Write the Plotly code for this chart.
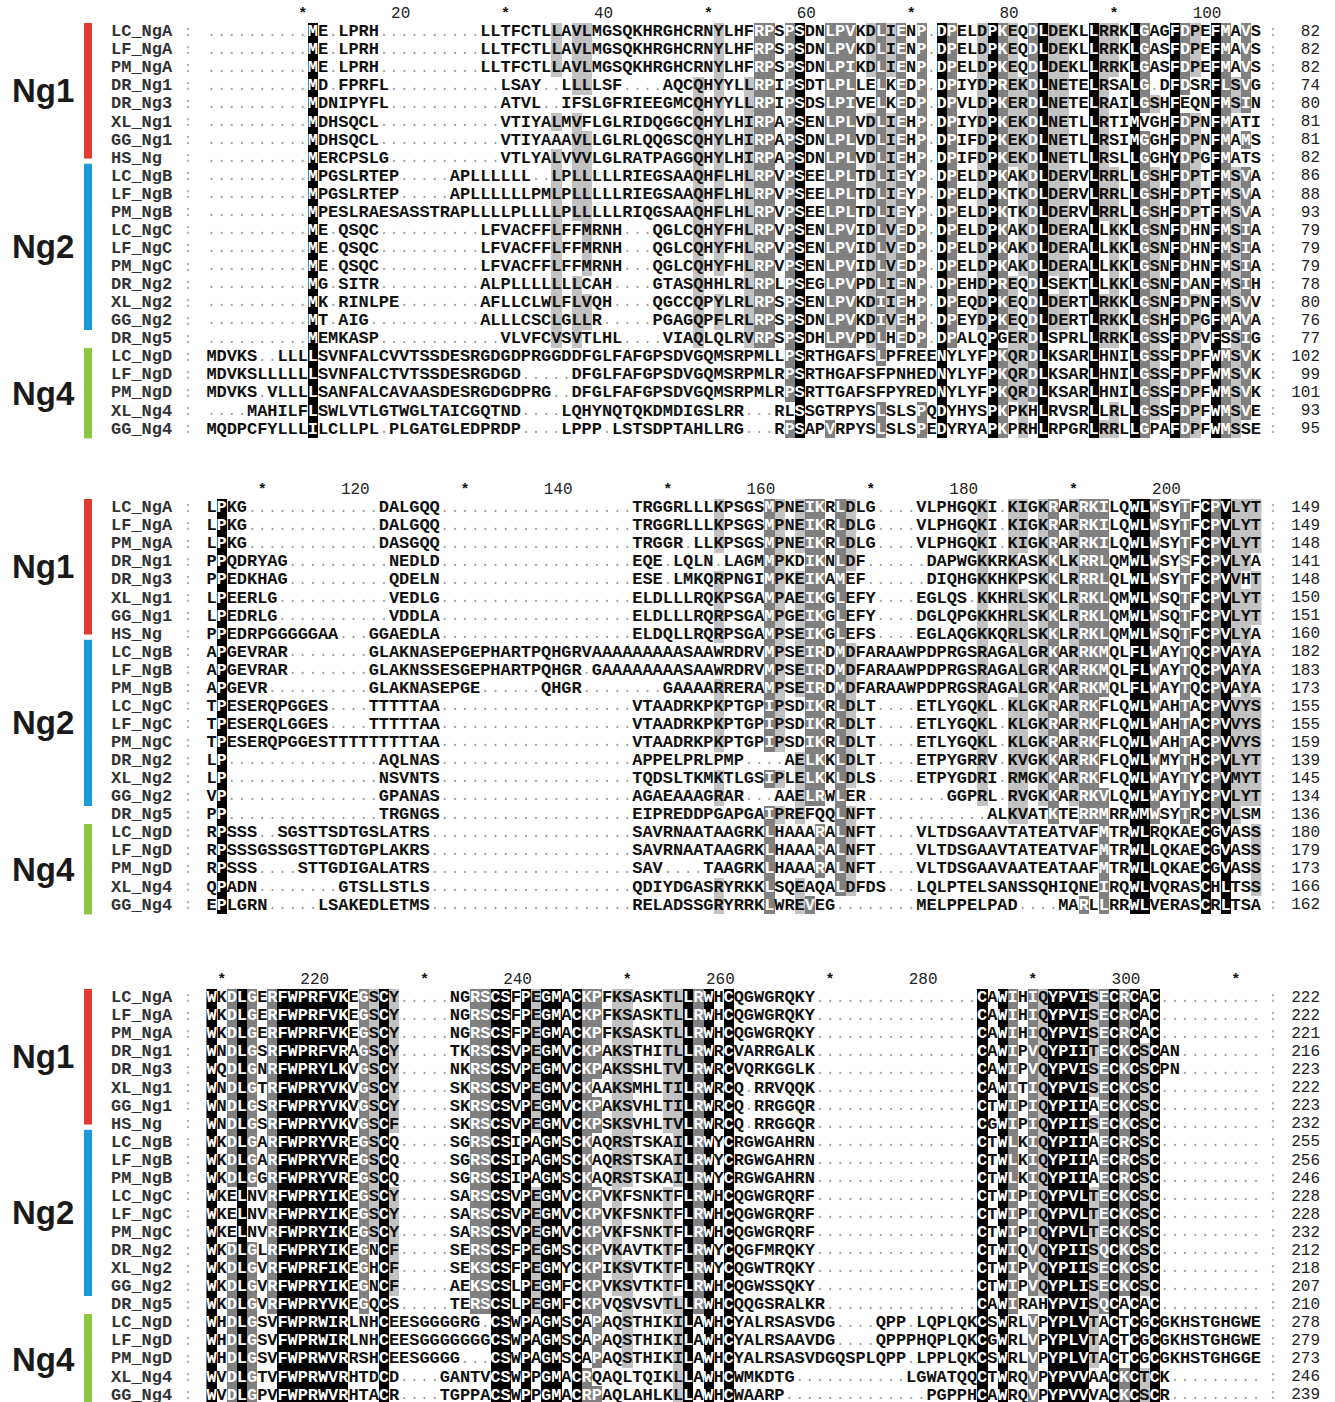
import plotly.graph_objects as go

# ---------------- data ----------------
NAMES = ["LC_NgA", "LF_NgA", "PM_NgA", "DR_Ng1", "DR_Ng3", "XL_Ng1", "GG_Ng1", "HS_Ng",
         "LC_NgB", "LF_NgB", "PM_NgB", "LC_NgC", "LF_NgC", "PM_NgC", "DR_Ng2", "XL_Ng2",
         "GG_Ng2", "DR_Ng5", "LC_NgD", "LF_NgD", "PM_NgD", "XL_Ng4", "GG_Ng4"]

GROUP_NAMES = ["Ng1", "Ng2", "Ng4"]
GROUP_COLORS = ["#e23b2e", "#1d9bd7", "#8dc63f"]

BLOCK_START = [1, 105, 209]

BLOCK_1 = [
    "." * 10 + "ME.LPRH" + "." * 10 + "LLTFCTLLAVLMGSQKHRGHCRNYLHFRPSPSDNLPVKDLIENP" + "." + "DPELDPKEQDLDEKLLRRKLGAGFDPEFMAVS",
    "." * 10 + "ME.LPRH" + "." * 10 + "LLTFCTLLAVLMGSQKHRGHCRNYLHFRPSPSDNLPVKDLIENP" + "." + "DPELDPKEQDLDEKLLRRKLGASFDPEFMAVS",
    "." * 10 + "ME.LPRH" + "." * 10 + "LLTFCTLLAVLMGSQKHRGHCRNYLHFRPSPSDNLPIKDLIENP" + "." + "DPELDPKEQDLDEKLLRRKLGASFDPEFMAVS",
    "." * 10 + "MD.FPRFL" + "." * 11 + "LSAY..LLLLSF....AQCQHY" + "YLLRPIPSDTLPLLELKEDP" + "." + "DPIYDPREKDLNETELRSALG.DFDSRFLSVG",
    "." * 10 + "MDNIPYFL" + "." * 11 + "ATVL..IFSLGFRIEEGMCQHY" + "YLLRPIPSDSLPIVELKEDP" + "." + "DPVLDPKERDLNETELRAILGSHFEQNFMSIN",
    "." * 10 + "MDHSQCL" + "." * 12 + "VTIYALMVFLGLRIDQGGCQHY" + "LHIRPAPSENLPLVDLIEHP" + "." + "DPIYDPKEKDLNETLLRTIMVGHFDPNFMATI",
    "." * 10 + "MDHSQCL" + "." * 12 + "VTIYAAAVLLGLRLQQGSCQHY" + "LHIRPAPSDNLPLVDLIEHP" + "." + "DPIFDPKEKDLNETLLRSIMGGHFDPNFMAMS",
    "." * 10 + "MERCPSLG" + "." * 11 + "VTLYALVVVLGLRATPAGGQHY" + "LHIRPAPSDNLPLVDLIEHP" + "." + "DPIFDPKEKDLNETLLRSLLGGHYDPGFMATS",
    "." * 10 + "MPGSLRTEP" + "." * 5 + "APLLLLLL..LPLLLLLRIEGSAAQHF" + "LHLRPVPSEELPLTDLIEYP" + "." + "DPELDPKAKDLDERVLRRLLGSHFDPTFMSVA",
    "." * 10 + "MPGSLRTEP" + "." * 5 + "APLLLLLLPMLPLLLLLRIEGSAAQHF" + "LHLRPVPSEELPLTDLIEYP" + "." + "DPELDPKTKDLDERVLRRLLGSHFDPTFMSVA",
    "." * 10 + "MPESLRAESASSTRAPLLLLPLLLLPLLLLLRIQGSAAQHF" + "LHLRPVPSEELPLTDLIEYP" + "." + "DPELDPKTKDLDERVLRRLLGSHFDPTFMSVA",
    "." * 10 + "ME.QSQC" + "." * 10 + "LFVACFFLFFMRNH...QGLCQHY" + "FHLRPVPSENLPVIDLVEDP" + "." + "DPELDPKAKDLDERALLKKLGSNFDHNFMSIA",
    "." * 10 + "ME.QSQC" + "." * 10 + "LFVACFFLFFMRNH...QGLCQHY" + "FHLRPVPSENLPVIDLVEDP" + "." + "DPELDPKAKDLDERALLKKLGSNFDHNFMSIA",
    "." * 10 + "ME.QSQC" + "." * 10 + "LFVACFFLFFMRNH...QGLCQHY" + "FHLRPVPSENLPVIDLVEDP" + "." + "DPELDPKAKDLDERALLKKLGSNFDHNFMSIA",
    "." * 10 + "MG.SITR" + "." * 10 + "ALPLLLLLLLCAH....GTASQHH" + "LRLRPLPSEGLPVPDLIENP" + "." + "DPEHDPREQDLSEKTLLKKLGSNFDANFMSIH",
    "." * 10 + "MK.RINLPE" + "." * 8 + "AFLLCLWLFLVQH....QGCCQPY" + "LRLRPSPSENLPVKDIIEHP" + "." + "DPEQDPKEQDLDERTLRKKLGSNFDPNFMSVV",
    "." * 10 + "MT.AIG" + "." * 11 + "ALLLCSCLGLLR.....PGAGQPF" + "LRLRPSPSDNLPVKDIVEHP" + "." + "DPEYDPKEQDLDERTLRKKLGSHFDPGFMAVA",
    "." * 10 + "MEMKASP" + "." * 12 + "VLVFCVSVTLHL....VIAQLQ" + "LRVRPSPSDHLPVPDLHEDP" + "." + "DPALQPGERDLSPRLLRRKLGSSFDPVFSSIG",
    "MDVKS..LLLLSVNFALCVVTSSDESRGDGDPRGGDDFGLFAFGPSDVGQMSRPMLLPSRTHGAFSLPFREENYLYFPKQRDLKSARLHNILGSSFDPFWMSVK",
    "MDVKSLLLLLLSVNFALCTVTSSDESRGDGD.....DFGLFAFGPSDVGQMSRPMLRPSRTHGAFSFPNHEDNYLYFPKQRDLKSARLHNILGSSFDPFWMSVK",
    "MDVKS.VLLLLSANFALCAVAASDESRGDGDPRG..DFGLFAFGPSDVGQMSRPMLRPSRTTGAFSFPYREDNYLYFPKQRDLKSARLHNILGSSFDPFWMSVK",
    "....MAHILFLSWLVTLGTWGLTAICGQTND....LQHYNQTQKDMDIGSLRR...RLSSGTRPYSLSLSPQDYHYSPKPKHLRVSRLLRLLGSSFDPFWMSVE",
    "MQDPCFYLLLILCLLPL.PLGATGLEDPRDP....LPPP.LSTSDPTAHLLRG...RPSAPVRPYSLSLSPEDYRYAPKPRHLRPGRLRRLLGPAFDPFWMSSE",
]

BLOCK_2 = [
    "LPKG" + "." * 13 + "DALGQQ" + "." * 19 + "TRGGRLLLKPSGSMPNEIKRLDLG" + "...." + "VLPHGQKI" + "." + "KIGKRARRKILQWLWSYTFCPVLYT",
    "LPKG" + "." * 13 + "DALGQQ" + "." * 19 + "TRGGRLLLKPSGSMPNEIKRLDLG" + "...." + "VLPHGQKI" + "." + "KIGKRARRKILQWLWSYTFCPVLYT",
    "LPKG" + "." * 13 + "DASGQQ" + "." * 19 + "TRGGR.LLKPSGSMPNEIKRLDLG" + "...." + "VLPHGQKI" + "." + "KIGKRARRKILQWLWSYTFCPVLYT",
    "PPQDRYAG" + "." * 10 + "NEDLD" + "." * 19 + "EQE.LQLN.LAGMMPKDIKNLDF" + "." * 6 + "DAPWGKKRKASKKLKRRLQMWLWSYSFCPVLYA",
    "PPEDKHAG" + "." * 10 + "QDELN" + "." * 19 + "ESE.LMKQRPNGIMPKEIKAMEF" + "." * 6 + "DIQHGKKHKPSKKLRRRLQLWLWSYTFCPVVHT",
    "LPEERLG" + "." * 11 + "VEDLG" + "." * 19 + "ELDLLLRQKPSGAMPAEIKGLEFY" + "...." + "EGLQS" + "." + "KKHRLSKKLRRKLQMWLWSQTFCPVLYT",
    "LPEDRLG" + "." * 11 + "VDDLA" + "." * 19 + "ELDLLLRQRPSGAMPGEIKGLEFY" + "...." + "DGLQPGKKHRLSKKLRRKLQMWLWSQTFCPVLYT",
    "PPEDRPGGGGGAA" + "..." + "GGAEDLA" + "." * 19 + "ELDQLLRQRPSGAMPSEIKGLEFS" + "...." + "EGLAQGKKQRLSKKLRRKLQMWLWSQTFCPVLYA",
    "APGEVRAR" + "." * 8 + "GLAKNASEPGEPHARTPQHGRV" + "AAAAAAAAA" + "SA" + "AWRDRVMPSEIRDMDFARAAWPDPRGSRAGALGRKARRKMQLFLWAYTQCPVAYA",
    "APGEVRAR" + "." * 8 + "GLAKNSSESGEPHARTPQHGR" + "." + "G" + "AAAAAAAA" + "SA" + "AWRDRVMPSEIRDMDFARAAWPDPRGSRAGALGRKARRKMQLFLWAYTQCPVAYA",
    "APGEVR" + "." * 10 + "GLAKNASEPGE" + "." * 6 + "QHGR" + "." * 8 + "GAAAA" + "RRERAMPSEIRDMDFARAAWPDPRGSRAGALGRKARRKMQLFLWAYTQCPVAYA",
    "TPESERQPGGES" + "...." + "TTTTTAA" + "." * 19 + "VTAADRKPKPTGPIPSDIKRLDLT" + "...." + "ETLYGQKL" + "." + "KLGKRARRKFLQWLWAHTACPVVYS",
    "TPESERQLGGES" + "...." + "TTTTTAA" + "." * 19 + "VTAADRKPKPTGPIPSDIKRLDLT" + "...." + "ETLYGQKL" + "." + "KLGKRARRKFLQWLWAHTACPVVYS",
    "TPESERQPGGESTTTTTTTTTAA" + "." * 19 + "VTAADRKPKPTGPIPSDIKRLDLT" + "...." + "ETLYGQKL" + "." + "KLGKRARRKFLQWLWAHTACPVVYS",
    "LP" + "." * 15 + "AQLNAS" + "." * 19 + "APPELPRLPMP" + "...." + "AELKKLDLT" + "...." + "ETPYGRRV" + "." + "KVGKKARRKFLQWLWMYTHCPVLYT",
    "LP" + "." * 15 + "NSVNTS" + "." * 19 + "TQDSLTKMKTLGSIPLELKKLDLS" + "...." + "ETPYGDRI" + "." + "RMGKKARRKFLQWLWAYTYCPVMYT",
    "VP" + "." * 15 + "GPANAS" + "." * 19 + "AGAEAAAGRAR" + "..." + "AAELRWLER" + "." * 8 + "GGPRL" + "." + "RVGKKARRKVLQWLWAYTYCPVLYT",
    "PP" + "." * 15 + "TRGNGS" + "." * 19 + "EIPREDDPGAPGAIPREFQQLNFT" + "." * 11 + "ALKVATKTERRMRRWMWSYTRCPVLSM",
    "RPSSS" + ".." + "SGSTTSDTGSLATRS" + "." * 20 + "SAVRNAATAAGRKLHAAARALNFT" + "...." + "VLTDSGAAVTATEATVAFMTRWLRQKAECGVASS",
    "RPSSSGSSGSTTGDTGPLAKRS" + "." * 20 + "SAVRNAATAAGRKLHAAARALNFT" + "...." + "VLTDSGAAVTATEATVAFMTRWLLQKAECGVASS",
    "RPSSS" + "...." + "STTGDIGALATRS" + "." * 20 + "SAV" + "...." + "TAAGRKLHAAARALNFT" + "...." + "VLTDSGAAVAATEATAAFMTRWLLQKAECGVASS",
    "QPADN" + "." * 8 + "GTSLLSTLS" + "." * 20 + "QDIYDGASRYRKKLSQEAQALDFDS" + "..." + "LQLPTELSANSSQHIQNEIRQWLVQRASCHLTSS",
    "EPLGRN" + "." * 5 + "LSAKEDLETMS" + "." * 20 + "RELADSSGRYRRKLWREVEG" + "." * 8 + "MELPPELPAD" + "...." + "MARLLRRWLVERASCRLTSA",
]

BLOCK_3 = [
    "WKDLGERFWPRFVKEGSCY" + "....." + "NGRSCSFPEGMACKPFKSASKTLLRWHCQGWGRQKY" + "." * 16 + "CAWIHIQYPVISECRCAC" + "." * 10,
    "WKDLGERFWPRFVKEGSCY" + "....." + "NGRSCSFPEGMACKPFKSASKTLLRWHCQGWGRQKY" + "." * 16 + "CAWIHIQYPVISECRCAC" + "." * 10,
    "WKDLGERFWPRFVKEGSCY" + "....." + "NGRSCSFPEGMACKPFKSASKTLLRWHCQGWGRQKY" + "." * 16 + "CAWIHIQYPVISECRCAC" + "." * 10,
    "WNDLGSRFWPRFVRAGSCY" + "....." + "TKRSCSVPEGMVCKPAKSTHITLLRWRCVARRGALK" + "." * 16 + "CAWIPVQYPIITECKCSCAN" + "." * 8,
    "WQDLGNRFWPRYLKVGSCY" + "....." + "NKRSCSVPEGMVCKPAKSSHLTVLRWRCVQRKGGLK" + "." * 16 + "CAWIPVQYPVISECKCSCPN" + "." * 8,
    "WNDLGTRFWPRYVKVGSCY" + "....." + "SKRSCSVPEGMVCKAAKSMHLTILRWRCQ.RRVQQK" + "." * 16 + "CAWITIQYPVISECKCSC" + "." * 10,
    "WNDLGSRFWPRYVKVGSCY" + "....." + "SKRSCSVPEGMVCKPAKSVHLTILRWRCQ.RRGGQR" + "." * 16 + "CTWIPIQYPIIAECKCSC" + "." * 10,
    "WNDLGSRFWPRYVKVGSCF" + "....." + "SKRSCSVPEGMVCKPSKSVHLTVLRWRCQ.RRGGQR" + "." * 16 + "CGWIPIQYPIISECKCSC" + "." * 10,
    "WKDLGARFWPRYVREGSCQ" + "....." + "SGRSCSIPAGMSCKAQRSTSKAILRWYCRGWGAHRN" + "." * 16 + "CTWLKIQYPIIAECRCSC" + "." * 10,
    "WKDLGARFWPRYVREGSCQ" + "....." + "SGRSCSIPAGMSCKAQRSTSKAILRWYCRGWGAHRN" + "." * 16 + "CTWLKIQYPIIAECRCSC" + "." * 10,
    "WKDLGGRFWPRYVREGSCQ" + "....." + "SGRSCSIPAGMSCKAQRSTSKAILRWYCRGWGAHRN" + "." * 16 + "CTWLKIQYPIIAECRCSC" + "." * 10,
    "WKELNVRFWPRYIKEGSCY" + "....." + "SARSCSVPEGMVCKPVKFSNKTFLRWHCQGWGRQRF" + "." * 16 + "CTWIPIQYPVLTECKCSC" + "." * 10,
    "WKELNVRFWPRYIKEGSCY" + "....." + "SARSCSVPEGMVCKPVKFSNKTFLRWHCQGWGRQRF" + "." * 16 + "CTWIPIQYPVLTECKCSC" + "." * 10,
    "WKELNVRFWPRYIKEGSCY" + "....." + "SARSCSVPEGMVCKPVKFSNKTFLRWHCQGWGRQRF" + "." * 16 + "CTWIPIQYPVLTECKCSC" + "." * 10,
    "WKDLGLRFWPRYIKEGNCF" + "....." + "SERSCSFPEGMSCKPVKAVTKTFLRWYCQGFMRQKY" + "." * 16 + "CTWIQVQYPIISQCKCSC" + "." * 10,
    "WKDLGVRFWPRFIKEGHCF" + "....." + "SEKSCSFPEGMYCKPIKSVTKTFLRWYCQGWTRQKY" + "." * 16 + "CTWIPVQYPIISECKCSC" + "." * 10,
    "WKDLGVRFWPRYIKEGNCF" + "....." + "AEKSCSLPEGMFCKPVKSVTKTFLRWHCQGWSSQKY" + "." * 16 + "CTWIPVQYPLISECKCSC" + "." * 10,
    "WKDLGVRFWPRYVKEGQCS" + "....." + "TERSCSLPEGMFCKPVQSVSVTLLRWHCQQGSRALKR" + "." * 15 + "CAWIRAHYPVISQCACAC" + "." * 10,
    "WHDLGSVFWPRWIRLNHCEESGGGGRG" + "." + "CSWPAGMSCAPAQSTHIKILAWHCYALRSASVDG" + "...." + "QPP.LQPLQK" + "CSWRLVPYPLVTACTCGCGKHSTGHGWE",
    "WHDLGSVFWPRWIRLNHCEESGGGGGGG" + "CSWPAGMSCAPAQSTHIKILAWHCYALRSAAVDG" + "...." + "QPPPHQPLQK" + "CGWRLVPYPLVTACTCGCGKHSTGHGWE",
    "WHDLGSVFWPRWVRRSHCEESGGGG" + "..." + "CSWPAGMSCAPAQSTHIKILAWHCYALRSASVDG" + "QSPLQPP" + "." + "LPPLQK" + "CSWRLVPYPLVTACTCGCGKHSTGHGGE",
    "WVDLGTVFWPRWVRHTDCD" + "...." + "GANTV" + "CSWPPGMACRQAQLTQIKLLAWH" + "CWMKDTG" + "." * 11 + "LGWATQQ" + "CTWRQVPYPVVAACKCTCK" + "." * 9,
    "WVDLGPVFWPRWVRHTACR" + "...." + "TGPPA" + "CSWPPGMACRPAQLAHLKLLAWH" + "CWAARP" + "." * 14 + "PGPPH" + "CAWRQVPYPVVVACKCSCR" + "." * 9,
]

BLOCKS = [BLOCK_1, BLOCK_2, BLOCK_3]

# rows covered by each group bar: (first row, last row)
GROUP_ROWS = [(0, 7), (8, 16), (18, 22)]

# ---------------- layout constants ----------------
W, H = 1335, 1402
X0_PX = 201.4          # pixel centre of alignment column 0
CW = 10.14             # pixel width of one alignment column
ROW_PITCH = 18.06
BLOCK_TOP = [32, 508, 998]   # pixel centre of the first sequence row of each block
SEQ_FONT = "Liberation Mono"
SHADES = ["#ffffff", "#c2c2c2", "#808080", "#000000"]
SIM_GROUPS = ["DN", "EQ", "ST", "KR", "FYW", "LIVM"]
LEVELS = (1.0, 0.75, 0.6)   # black, dark grey, light grey


def px(xpix):
    """Convert a horizontal pixel position to alignment-column units."""
    return (xpix - X0_PX) / CW


def normalise(block):
    width = max(len(s) for s in block)
    return [s.ljust(width, ".") for s in block]


def conservation(seqs):
    """Conservation shading with similarity groups (three levels)."""
    n = len(seqs)
    length = len(seqs[0])
    z = [[0] * length for _ in seqs]
    for j in range(length):
        col = [s[j] for s in seqs]
        best, best_n = set(), 0
        for c in set(col):
            if c.isalpha():
                k = col.count(c)
                if k > best_n:
                    best, best_n = {c}, k
        for g in SIM_GROUPS:
            k = sum(1 for c in col if c in g)
            if k > best_n:
                best, best_n = set(g), k
        frac = best_n / n
        level = 3 if frac >= LEVELS[0] else 2 if frac >= LEVELS[1] else 1 if frac >= LEVELS[2] else 0
        if level:
            for i, c in enumerate(col):
                if c in best:
                    z[i][j] = level
    return z


fig = go.Figure()
colorscale = []
for k, col in enumerate(SHADES):
    colorscale += [[k / 4, col], [(k + 1) / 4, col]]

running = [0] * len(NAMES)
for b, raw in enumerate(BLOCKS):
    seqs = normalise(raw)
    length = len(seqs[0])
    z = conservation(seqs)
    ys = [BLOCK_TOP[b] + i * ROW_PITCH for i in range(len(seqs))]
    xs = list(range(1, length + 1))

    fig.add_trace(go.Heatmap(
        x=xs, y=ys, z=z, zmin=-0.5, zmax=3.5, colorscale=colorscale,
        showscale=False, hoverinfo="skip", xgap=0, ygap=0))

    rx, ry, rt, rc = [], [], [], []
    gx, gy = [], []
    for i, s in enumerate(seqs):
        for j, c in enumerate(s):
            if c.isalpha():
                rx.append(j + 1)
                ry.append(ys[i])
                rt.append(c)
                rc.append("#ffffff" if z[i][j] >= 2 else "#111111")
            else:
                gx.append(j + 1)
                gy.append(ys[i])
    fig.add_trace(go.Scatter(
        x=rx, y=ry, text=rt, mode="text", hoverinfo="skip", cliponaxis=False,
        textfont=dict(family=SEQ_FONT, size=17, color=rc, weight="bold")))
    fig.add_trace(go.Scatter(
        x=gx, y=gy, text=["."] * len(gx), mode="text", hoverinfo="skip", cliponaxis=False,
        textfont=dict(family=SEQ_FONT, size=14, color="#9a9a9a")))

    # ruler: "*" every 10, number every 20
    sx, sy, st = [], [], []
    nx, ny, nt = [], [], []
    ruler_y = BLOCK_TOP[b] - ROW_PITCH
    for j in range(1, length + 1):
        pos = BLOCK_START[b] + j - 1
        if pos % 20 == 0:
            nx.append(j + 0.6)
            ny.append(ruler_y)
            nt.append(str(pos))
        elif pos % 10 == 0:
            sx.append(j)
            sy.append(ruler_y)
            st.append("*")
    fig.add_trace(go.Scatter(
        x=sx, y=sy, text=st, mode="text", hoverinfo="skip", cliponaxis=False,
        textfont=dict(family=SEQ_FONT, size=15, color="#111111", weight="bold")))
    fig.add_trace(go.Scatter(
        x=nx, y=ny, text=nt, mode="text", textposition="middle left", hoverinfo="skip",
        cliponaxis=False, textfont=dict(family=SEQ_FONT, size=16, color="#222222")))

    # names, separators and running residue counts
    ends = []
    for i, s in enumerate(seqs):
        running[i] += sum(1 for c in s if c.isalpha())
        ends.append(str(running[i]))
    fig.add_trace(go.Scatter(
        x=[px(111)] * len(seqs), y=ys, text=NAMES, mode="text", textposition="middle right",
        hoverinfo="skip", cliponaxis=False,
        textfont=dict(family=SEQ_FONT, size=17, color="#333333", weight="bold")))
    fig.add_trace(go.Scatter(
        x=[px(188)] * len(seqs) + [px(1273)] * len(seqs), y=ys + ys,
        text=[":"] * (2 * len(seqs)), mode="text", hoverinfo="skip", cliponaxis=False,
        textfont=dict(family=SEQ_FONT, size=15, color="#a8a8a8")))
    fig.add_trace(go.Scatter(
        x=[px(1320)] * len(seqs), y=ys, text=ends, mode="text", textposition="middle left",
        hoverinfo="skip", cliponaxis=False,
        textfont=dict(family=SEQ_FONT, size=16, color="#222222")))

    # group bars and labels
    for g, (r0, r1) in enumerate(GROUP_ROWS):
        top = ys[r0] - ROW_PITCH / 2
        bottom = ys[r1] + ROW_PITCH / 2
        if g == 0:
            bottom = ys[r1]
        if g == 1:
            top = ys[r0 - 1] + ROW_PITCH * 0.3
        fig.add_shape(type="rect", xref="x", yref="y", x0=px(84), x1=px(92),
                      y0=top, y1=bottom, fillcolor=GROUP_COLORS[g], line_width=0, layer="above")
        fig.add_annotation(x=px(43), y=(top + bottom) / 2, text="<b>%s</b>" % GROUP_NAMES[g],
                           showarrow=False, xanchor="center", yanchor="middle",
                           font=dict(family="Liberation Sans", size=33, color="#1a1a1a"))

fig.update_layout(
    width=W, height=H, autosize=False,
    margin=dict(l=0, r=0, t=0, b=0),
    paper_bgcolor="white", plot_bgcolor="white",
    showlegend=False,
    xaxis=dict(range=[px(0), px(W)], visible=False, fixedrange=True),
    yaxis=dict(range=[H, 0], visible=False, fixedrange=True),
)

fig.write_html("out.html")
